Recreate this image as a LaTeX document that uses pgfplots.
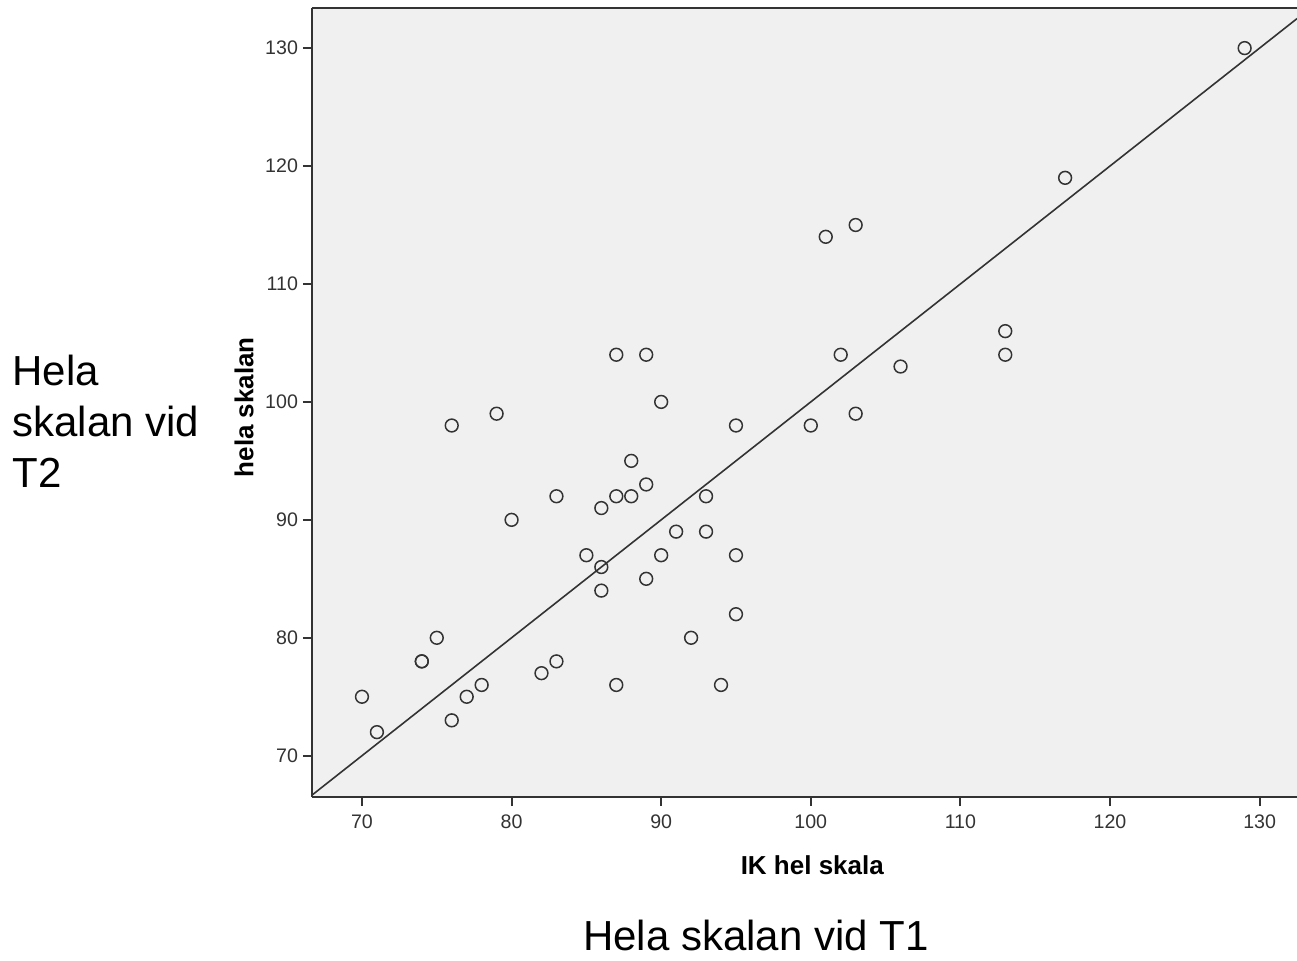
\documentclass[border=0pt]{standalone}
\usepackage{pgfplots}
\pgfplotsset{compat=1.18}
\usepackage{fontspec}
\setmainfont{Liberation Sans}
\definecolor{bgc}{HTML}{F0F0F0}
\definecolor{ink}{HTML}{333333}
\begin{document}
\begin{tikzpicture}
\path[use as bounding box] (-156pt,-81.5pt) rectangle (492.5pt,398.5pt);
\begin{axis}[
    at={(0,0)}, anchor=south west,
    scale only axis,
    width=492.5pt, height=394.5pt,
    xmin=66.66, xmax=132.5,
    ymin=66.5, ymax=133.4,
    axis lines=left,
    axis line style={-, ink, line width=1pt},
    axis background/.style={fill=bgc},
    xtick={70,80,...,130},
    ytick={70,80,...,130},
    tick align=outside,
    major tick length=4.5pt,
    tick style={ink, line width=1pt},
    ticklabel style={font=\fontsize{9.8}{11}\selectfont, text=ink},
    xticklabel style={yshift=-1pt},
    yticklabel style={xshift=1pt},
    /pgf/number format/assume math mode=true,
    xlabel={\textbf{IK hel skala}},
    ylabel={\textbf{hela skalan}},
    label style={font=\fontsize{13}{15}\selectfont},
    xlabel style={at={(axis description cs:0.508,-0.086)}, anchor=center},
    ylabel style={at={(axis description cs:-0.069,0.494)}, anchor=center},
    clip=false,
]
\addplot[ink, line width=0.8pt] coordinates {(66.66,66.66) (132.5,132.5)};
\addplot[only marks, mark=o, mark size=3.2pt, mark options={ink, line width=0.75pt}] coordinates {
(70,75) (71,72) (74,78) (74,78) (75,80) (76,73) (76,98) (77,75) (78,76) (79,99)
(80,90) (82,77) (83,78) (83,92) (85,87) (86,91) (86,86) (86,84) (87,104) (87,92)
(87,76) (88,95) (88,92) (89,104) (89,93) (89,85) (90,100) (90,87) (91,89) (92,80)
(93,92) (93,89) (94,76) (95,98) (95,87) (95,82) (100,98) (101,114) (102,104) (103,115)
(103,99) (106,103) (113,106) (113,104) (117,119) (129,130)
};
\draw[ink, line width=1pt] (rel axis cs:0,1) -- (rel axis cs:1,1);
\end{axis}
\node[anchor=west, align=left, inner sep=0pt, font=\fontsize{21}{25.5}\selectfont] at (-150pt,188pt) {Hela\\skalan vid\\T2};
\node[anchor=base, inner sep=0pt, font=\fontsize{21}{25}\selectfont] at (222pt,-76.5pt) {Hela skalan vid T1};
\end{tikzpicture}
\end{document}
